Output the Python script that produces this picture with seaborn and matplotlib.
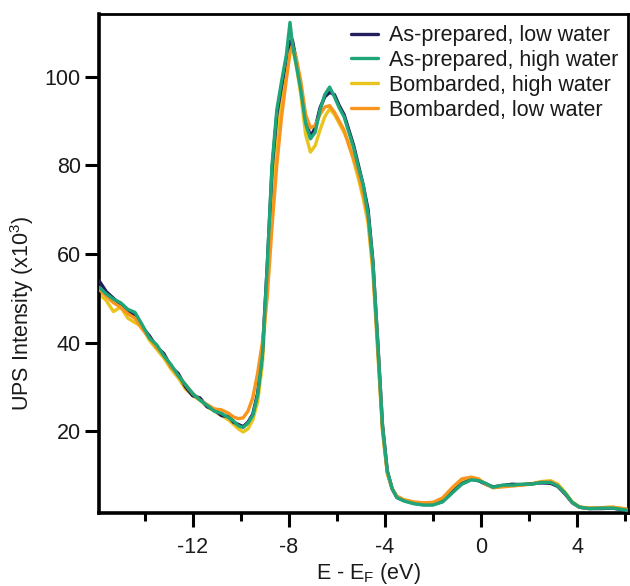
import matplotlib
matplotlib.use("Agg")
import matplotlib.pyplot as plt
import seaborn as sns
import pandas as pd
from matplotlib.ticker import FixedLocator

energy = [-15.9, -15.6, -15.3, -15.0, -14.7, -14.4, -14.1, -13.8, -13.5, -13.2,
          -12.9, -12.6, -12.3, -12.0, -11.7, -11.4, -11.1, -10.8, -10.5, -10.3,
          -10.1, -9.9, -9.7, -9.5, -9.3, -9.1, -8.9, -8.7, -8.5, -8.3,
          -8.1, -7.95, -7.85, -7.7, -7.5, -7.3, -7.1, -6.9, -6.7, -6.5,
          -6.3, -6.1, -5.9, -5.7, -5.5, -5.3, -5.1, -4.9, -4.7, -4.5,
          -4.3, -4.1, -3.9, -3.7, -3.5, -3.2, -2.8, -2.4, -2.0, -1.6,
          -1.2, -0.8, -0.4, -0.1, 0.2, 0.5, 0.9, 1.3, 1.7, 2.1,
          2.5, 2.9, 3.2, 3.5, 3.8, 4.1, 4.5, 5.0, 5.5, 6.1]

asprep_low = [54.0, 51.5, 50.0, 48.5, 47.0, 46.0, 43.5, 41.5, 39.0, 37.5,
              34.5, 33.0, 30.0, 28.0, 27.5, 25.5, 24.8, 23.5, 23.3, 22.0,
              21.5, 21.0, 22.0, 23.8, 28.5, 37.5, 57.0, 79.0, 91.5, 98.0,
              104.0, 108.0, 108.3, 104.0, 98.0, 90.5, 86.5, 88.5, 93.0, 95.5,
              96.5, 96.0, 93.5, 91.5, 88.0, 84.5, 80.0, 75.5, 70.0, 58.5,
              40.5, 21.5, 11.0, 7.0, 5.0, 4.3, 3.7, 3.4, 3.4, 4.1,
              6.2, 8.1, 9.1, 8.8, 8.0, 7.4, 7.7, 8.0, 7.9, 8.1,
              8.3, 8.2, 7.5, 5.8, 3.8, 2.8, 2.5, 2.5, 2.6, 2.0]

asprep_high = [52.5, 51.0, 49.8, 49.0, 47.5, 46.8, 44.0, 41.0, 39.5, 37.0,
               35.0, 32.5, 30.5, 28.5, 27.0, 25.8, 24.5, 24.0, 23.0, 22.3,
               21.2, 20.8, 21.8, 23.5, 28.0, 37.0, 57.0, 80.0, 92.5, 99.0,
               105.0, 112.3, 107.5, 103.0, 97.0, 89.5, 86.0, 87.5, 92.5, 96.0,
               97.7, 95.5, 93.0, 91.0, 87.5, 84.0, 79.5, 75.5, 69.0, 58.0,
               40.0, 21.0, 11.0, 7.0, 5.0, 4.2, 3.6, 3.3, 3.3, 4.0,
               6.0, 8.0, 9.0, 8.8, 8.2, 7.3, 7.8, 7.8, 8.0, 8.0,
               8.4, 8.4, 7.6, 6.0, 3.9, 2.8, 2.5, 2.6, 2.6, 2.1]

bomb_high = [51.0, 49.5, 47.0, 48.0, 45.5, 44.5, 43.5, 40.5, 38.5, 36.5,
             34.0, 32.0, 29.5, 28.0, 27.0, 25.5, 24.5, 23.5, 22.5, 21.5,
             20.5, 19.8, 20.5, 22.5, 26.5, 35.0, 53.0, 73.0, 87.0, 95.0,
             101.0, 105.5, 106.5, 103.0, 96.0, 87.0, 83.0, 84.5, 88.0, 91.0,
             92.8, 91.5, 89.5, 87.5, 85.0, 81.0, 77.0, 72.5, 67.0, 56.0,
             38.0, 20.0, 10.5, 7.0, 5.2, 4.4, 3.8, 3.6, 3.6, 4.4,
             6.5, 8.5, 9.2, 8.9, 8.0, 7.4, 7.6, 7.8, 7.9, 8.1,
             8.6, 8.8, 8.0, 6.2, 4.0, 2.9, 2.6, 2.7, 2.8, 2.4]

bomb_low = [52.0, 50.5, 49.0, 48.0, 46.5, 45.5, 43.0, 41.0, 39.0, 37.0,
            34.5, 32.5, 30.5, 28.5, 27.0, 26.0, 25.0, 24.8, 24.0, 23.2,
            22.8, 23.0, 24.5, 27.5, 33.0, 40.0, 50.0, 66.0, 80.0, 91.0,
            99.5, 105.5, 107.0, 104.5, 99.0, 91.5, 88.5, 89.0, 91.5, 93.2,
            93.5, 92.0, 90.0, 88.0, 84.5, 81.5, 78.0, 73.5, 68.0, 57.0,
            39.0, 20.5, 10.5, 7.0, 5.3, 4.5, 4.0, 3.8, 3.9, 4.9,
            7.2, 9.2, 9.6, 9.2, 8.0, 7.2, 7.4, 7.6, 7.8, 8.0,
            8.5, 8.6, 7.8, 6.0, 3.9, 2.8, 2.6, 2.7, 2.8, 2.3]

labels = ["As-prepared, low water", "As-prepared, high water",
          "Bombarded, high water", "Bombarded, low water"]
colors = ["#221d5c", "#1fa57a", "#eac41c", "#f8951d"]
series = [asprep_low, asprep_high, bomb_high, bomb_low]
zorders = [3, 5, 2, 4]

sns.set_theme(style="ticks")
plt.rcParams["font.family"] = ["Liberation Sans", "DejaVu Sans"]
plt.rcParams["axes.unicode_minus"] = False

fig = plt.figure(figsize=(6.3, 5.86), dpi=100)
ax = fig.add_axes([99 / 630, 1 - 513 / 586, (628 - 99) / 630, (513 - 14) / 586])

for lab, col, ys, z in zip(labels, colors, series, zorders):
    df = pd.DataFrame({"E": energy, "I": ys})
    sns.lineplot(data=df, x="E", y="I", ax=ax, color=col, lw=2.4,
                 label=lab, zorder=z)

ax.set_xlim(-15.9, 6.12)
ax.set_ylim(1.5, 114.2)

ax.xaxis.set_major_locator(FixedLocator([-12, -8, -4, 0, 4]))
ax.xaxis.set_minor_locator(FixedLocator([-14, -10, -6, -2, 2, 6]))
ax.yaxis.set_major_locator(FixedLocator([20, 40, 60, 80, 100]))
ax.tick_params(axis="both", which="major", direction="out", length=10,
               width=2.2, labelsize=15.5, color="black", labelcolor="#1a1a1a")
ax.tick_params(axis="x", which="major", pad=7)
ax.tick_params(axis="y", which="major", pad=3)
ax.tick_params(axis="x", which="minor", direction="out", length=6, width=2.2,
               color="black")

for side in ["left", "bottom"]:
    ax.spines[side].set_linewidth(2.6)
    ax.spines[side].set_color("black")
for side in ["top", "right"]:
    ax.spines[side].set_visible(True)
    ax.spines[side].set_linewidth(2.0)
    ax.spines[side].set_color("black")

ax.set_xlabel("E - E$_\\mathregular{F}$ (eV)", fontsize=15.5, color="#1a1a1a")
ax.set_ylabel("UPS Intensity (x10$^\\mathregular{3}$)", fontsize=15.5,
              color="#1a1a1a")
ax.xaxis.set_label_coords(0.51, -0.097)
ax.yaxis.set_label_coords(-0.12, 0.40)

leg = ax.legend(loc="upper right", frameon=False, fontsize=15.5,
                handlelength=1.25, handletextpad=0.5, labelspacing=0.18,
                borderaxespad=0.0, bbox_to_anchor=(0.998, 0.995))
for t in leg.get_texts():
    t.set_color("#1a1a1a")

fig.savefig("out.png", dpi=100)
